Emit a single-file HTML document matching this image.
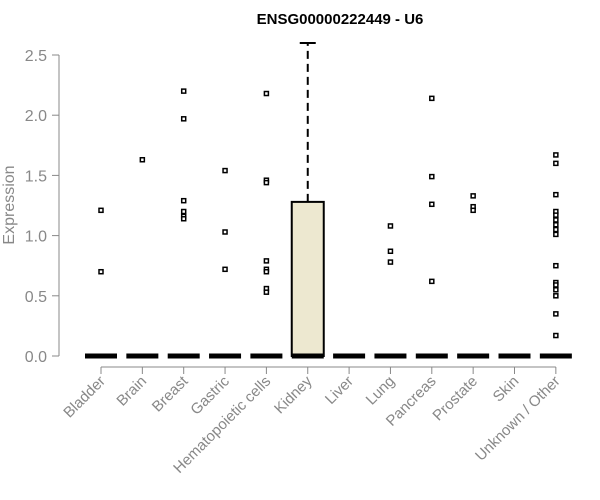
<!DOCTYPE html>
<html><head><meta charset="utf-8"><style>body{margin:0;background:#fff}svg{display:block;font-family:"Liberation Sans",Arial,sans-serif}</style></head>
<body>
<svg id="chart" width="600" height="500" xmlns="http://www.w3.org/2000/svg">
<text x="340" y="24" text-anchor="middle" font-weight="bold" font-size="15">ENSG00000222449 - U6</text>
<text transform="translate(14,205) rotate(-90)" text-anchor="middle" font-size="16" fill="#888">Expression</text>
<g id="axes"></g><g id="marks"></g>
</svg>
<script>
const categories=["Bladder","Brain","Breast","Gastric","Hematopoietic cells","Kidney","Liver","Lung","Pancreas","Prostate","Skin","Unknown / Other"];
const q1=[0,0,0,0,0,0,0,0,0,0,0,0];
const medians=[0,0,0,0,0,0,0,0,0,0,0,0];
const q3=[0,0,0,0,0,1.28,0,0,0,0,0,0];
const whiskerHigh=[0,0,0,0,0,2.60,0,0,0,0,0,0];
const outliers=[[1.21,0.70],[1.63],[2.20,1.97,1.29,1.20,1.16,1.14],[1.54,1.03,0.72],[2.18,1.46,1.44,0.79,0.72,0.70,0.56,0.53],[],[],[1.08,0.87,0.78],[2.14,1.49,1.26,0.62],[1.33,1.24,1.21],[],[1.67,1.60,1.34,1.20,1.17,1.13,1.09,1.05,1.01,0.75,0.61,0.59,0.55,0.50,0.35,0.17]];
const yTicks=[0,0.5,1,1.5,2,2.5];
const NS="http://www.w3.org/2000/svg";
const y=v=>356-v*120.4;
const x=i=>101+i*41.35;
function el(t,a,p){const e=document.createElementNS(NS,t);for(const k in a)e.setAttribute(k,a[k]);p.appendChild(e);return e;}
const axes=document.getElementById('axes'),marks=document.getElementById('marks');
const ya=el('line',{x1:59,x2:59,y1:y(2.5),y2:y(0),stroke:'#888'},axes);

yTicks.forEach(t=>{el('line',{x1:52,x2:59,y1:y(t),y2:y(t),stroke:'#888'},axes);
const tx=el('text',{x:47,y:y(t)+6,'text-anchor':'end','font-size':16,fill:'#888'},axes);tx.textContent=t.toFixed(1);
});
const xa=el('line',{x1:x(0),x2:x(categories.length-1),y1:367,y2:367,stroke:'#888'},axes);

categories.forEach((c,i)=>{const cx=x(i);
el('line',{x1:cx,x2:cx,y1:367,y2:374,stroke:'#888'},axes);
const tx=el('text',{x:cx+5,y:382,'text-anchor':'end','font-size':15,fill:'#888',transform:`rotate(-45 ${cx+5} 382)`},axes);tx.textContent=c;

const g=el('g',{},marks);
if(whiskerHigh[i]>q3[i]){el('line',{x1:cx,x2:cx,y1:y(q3[i]),y2:y(whiskerHigh[i]),stroke:'#000','stroke-width':2,'stroke-dasharray':'8,5'},g);
el('line',{x1:cx-8,x2:cx+8,y1:y(whiskerHigh[i]),y2:y(whiskerHigh[i]),stroke:'#000','stroke-width':2},g);}
if(q3[i]>q1[i])el('rect',{x:cx-16,y:y(q3[i]),width:32,height:y(q1[i])-y(q3[i]),fill:'#ede8d0',stroke:'#000','stroke-width':2},g);
el('line',{x1:cx-16,x2:cx+16,y1:y(medians[i]),y2:y(medians[i]),stroke:'#000','stroke-width':5},g);
outliers[i].forEach(v=>{const p=el('rect',{x:cx-2,y:y(v)-2,width:4,height:4,fill:'#fff',stroke:'#000','stroke-width':1.5},g);
});});
</script>
</body></html>
